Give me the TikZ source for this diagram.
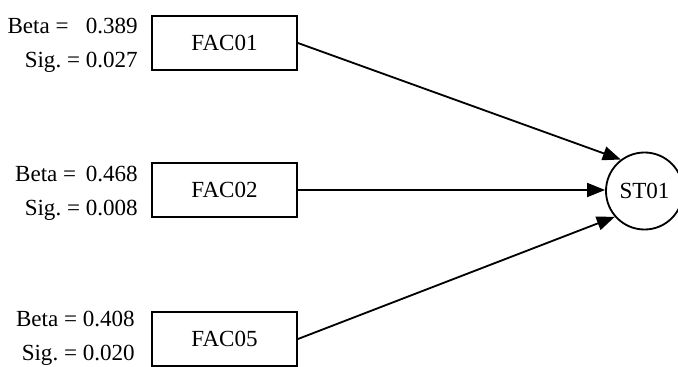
\documentclass[tikz,border=0pt]{standalone}
\usepackage{fontspec}
\setmainfont{Liberation Serif}
\usetikzlibrary{arrows.meta}

\begin{document}
\begin{tikzpicture}[
    x=0.025cm, y=-0.025cm,
    factor/.style={rectangle, draw, line width=1.3pt, minimum width=3.625cm, minimum height=1.35cm, inner sep=0pt},
    result/.style={circle, draw, line width=1.3pt, minimum size=1.925cm, inner sep=0pt},
    stat/.style={anchor=north east, align=right, inner sep=0pt},
    >={Triangle[length=4.5mm,width=3.5mm]},
    every node/.style={font=\fontsize{16.4}{24.1}\selectfont}
]
\useasboundingbox (0,0) rectangle (678,367);

\node[factor] (fac01) at (224.5,43) {FAC01};
\node[factor] (fac02) at (224.5,190) {FAC02};
\node[factor] (fac05) at (224.5,339) {FAC05};
\node[result] (st01) at (644.5,191) {ST01};

\node[stat] (s01) at (138,17.5) {Beta = \ \ 0.389\\Sig.\ = 0.027};
\node[stat] (s02) at (138,166) {Beta = \,0.468\\Sig.\ = 0.008};
\node[stat] (s05) at (135,311) {Beta = 0.408\\Sig.\ = 0.020};

\draw[->, line width=1.3pt] (fac01.east) -- (st01.127);
\draw[->, line width=1.3pt] (fac02.east) -- (fac02.east -| st01.west);
\draw[->, line width=1.3pt] (fac05.east) -- (st01.221);
\end{tikzpicture}
\end{document}
